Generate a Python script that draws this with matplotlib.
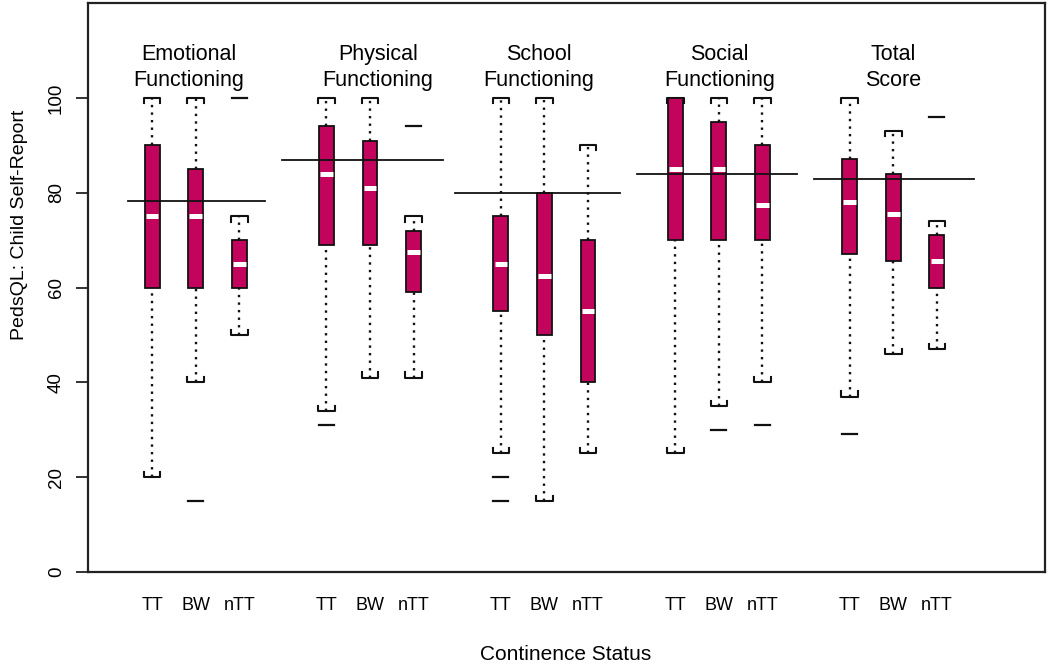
import numpy as np
import matplotlib
matplotlib.use('Agg')
import matplotlib.pyplot as plt
from matplotlib.patches import Rectangle

plt.rcParams['font.family'] = ['Liberation Sans', 'DejaVu Sans']

domains = ['Emotional\nFunctioning', 'Physical\nFunctioning', 'School\nFunctioning',
           'Social\nFunctioning', 'Total\nScore']
groups = ['TT', 'BW', 'nTT']

# per domain -> [TT, BW, nTT]
whis_lo = [[20, 40, 50], [34, 41, 41], [25, 15, 25], [25, 35, 40], [37, 46, 47]]
q1 = [[60, 60, 60], [69, 69, 59], [55, 50, 40], [70, 70, 70], [67, 65.5, 60]]
med = [[75, 75, 65], [84, 81, 67.5], [65, 62.5, 55], [85, 85, 77.5], [78, 75.5, 65.5]]
q3 = [[90, 85, 70], [94, 91, 72], [75, 80, 70], [100, 95, 90], [87, 84, 71]]
whis_hi = [[100, 100, 75], [100, 100, 75], [100, 100, 90], [100, 100, 100], [100, 93, 74]]
outliers = [[[], [15], [100]], [[31], [], [94]], [[20, 15], [], []],
            [[], [30], [31]], [[29], [], [96]]]
# horizontal reference line for each domain
ref_val = [78.2, 86.8, 80.0, 84.0, 82.8]

box_color = '#c2045c'
bw = 0.34      # box width
cw = 0.38      # cap width
ow = 0.34      # outlier dash width
mw = 0.29      # median bar width
cap_d = 1.1    # bracket tick depth (data units)

fig = plt.figure(figsize=(10.5, 6.64), dpi=100)
ax = fig.add_axes([88 / 1050, 1 - 572 / 664, (1045 - 88) / 1050, (572 - 3) / 664])

dot = (0, (1, 2.2))
tick_pos = []
tick_lab = []
for d in range(len(domains)):
    for g in range(len(groups)):
        x = 4 * d + g + 1
        tick_pos.append(x)
        tick_lab.append(groups[g])
        lo, a, m, b, hi = whis_lo[d][g], q1[d][g], med[d][g], q3[d][g], whis_hi[d][g]
        # whiskers
        ax.plot([x, x], [b, hi], color='#111111', lw=1.7, ls=dot, zorder=2)
        ax.plot([x, x], [lo, a], color='#111111', lw=1.7, ls=dot, zorder=2)
        # bracket caps
        ax.plot([x - cw / 2, x - cw / 2, x + cw / 2, x + cw / 2],
                [hi - cap_d, hi, hi, hi - cap_d], color='#111111', lw=1.5, zorder=3)
        ax.plot([x - cw / 2, x - cw / 2, x + cw / 2, x + cw / 2],
                [lo + cap_d, lo, lo, lo + cap_d], color='#111111', lw=1.5, zorder=3)
        # box
        ax.add_patch(Rectangle((x - bw / 2, a), bw, b - a, facecolor=box_color,
                               edgecolor='#111111', lw=1.3, zorder=3))
        # median
        ax.plot([x - mw / 2, x + mw / 2], [m, m], color='white', lw=3.6,
                solid_capstyle='butt', zorder=4)
        # outliers as dashes
        for o in outliers[d][g]:
            ax.plot([x - ow / 2, x + ow / 2], [o, o], color='#111111', lw=1.6, zorder=3)

# reference lines and domain titles
line_lo = [-1.55, -2.02, -2.05, -1.88, -1.82]
line_hi = [1.59, 1.68, 1.73, 1.79, 1.85]
title_dx = [-0.15, 0.18, -0.14, 0.02, 0.0]
for d in range(len(domains)):
    c = 4 * d + 2
    ax.plot([c + line_lo[d], c + line_hi[d]], [ref_val[d], ref_val[d]],
            color='#111111', lw=1.3, zorder=5)
    ax.text(c + title_dx[d], 102.6, domains[d], ha='center', va='baseline',
            fontsize=15.5, linespacing=1.3)

ax.set_xlim(-0.47, 21.48)
ax.set_ylim(0, 120)
ax.set_yticks([0, 20, 40, 60, 80, 100])
ax.set_yticklabels(['0', '20', '40', '60', '80', '100'], rotation=90, va='center')
ax.tick_params(axis='y', direction='out', length=8.5, width=1.3, pad=8, labelsize=13.5,
               color='#222222')
ax.set_xticks(tick_pos)
ax.set_xticklabels(tick_lab)
ax.tick_params(axis='x', length=0, pad=18, labelsize=13)
for s in ax.spines.values():
    s.set_linewidth(1.6)
    s.set_color('#222222')

fig.text(566 / 1050, 1 - 655 / 664, 'Continence Status', ha='center', va='center', fontsize=15)
fig.text(20 / 1050, 1 - 225 / 664, 'PedsQL: Child Self-Report', ha='center', va='center',
         rotation=90, fontsize=14)

fig.savefig('out.png', dpi=100)
